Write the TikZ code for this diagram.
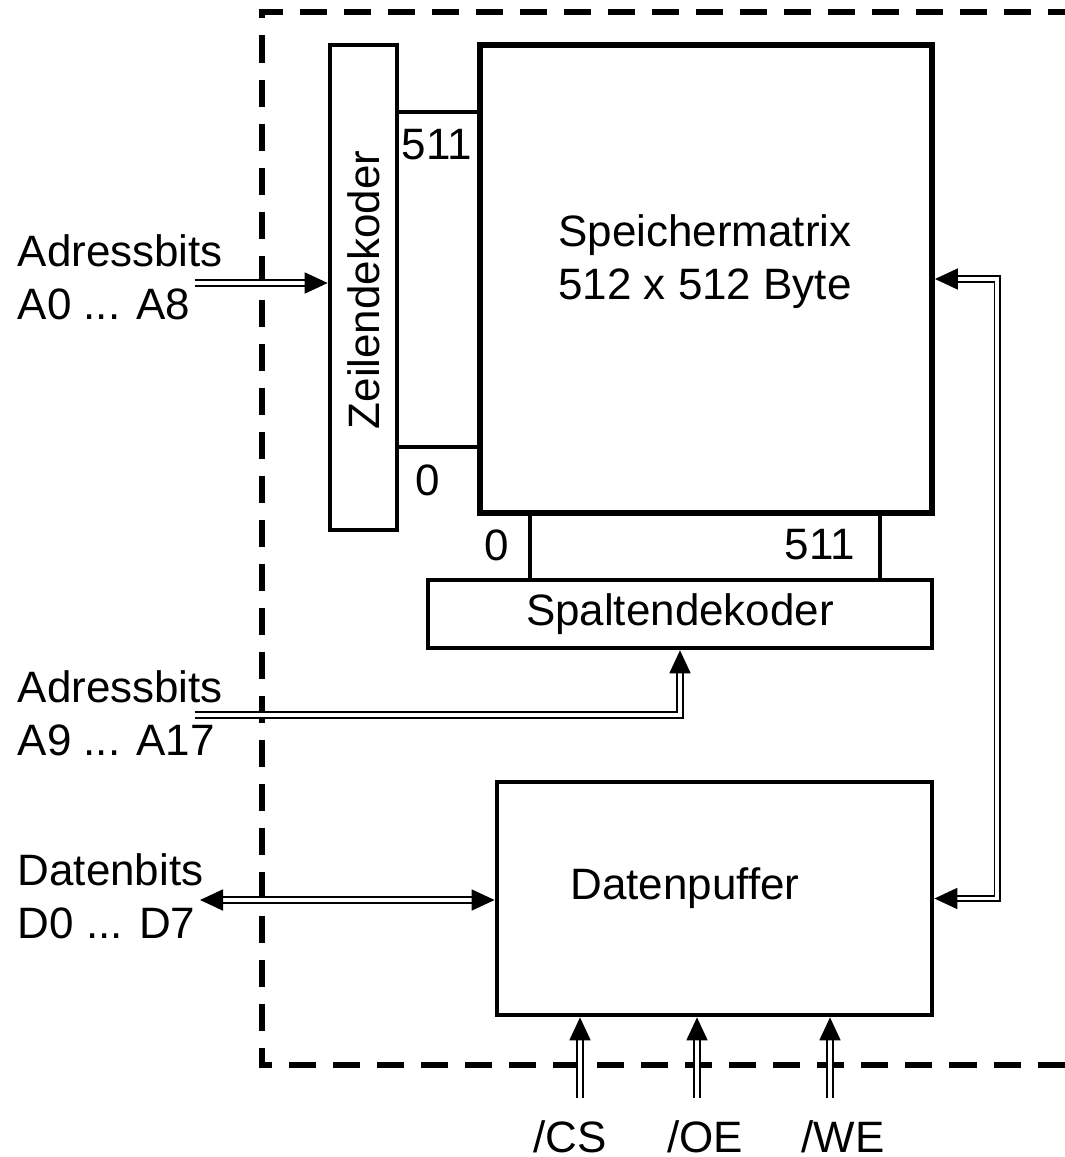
\documentclass[tikz,border=0pt]{standalone}
\usepackage{fontspec}
\setmainfont{Liberation Sans}
\usetikzlibrary{arrows.meta,positioning,calc}
\tikzset{
  blk/.style={draw, line width=1.3pt, inner sep=0pt},
  lbl/.style={font=\fontsize{12.5}{15}\selectfont, inner sep=0pt, align=left},
  wire/.style={line width=1.1pt},
  dbl/.style={double, double distance=1.1pt, line width=0.5pt},
  tip/.tip={Triangle[length=2.3mm, width=2.1mm]},
  arr/.style={dbl, -tip},
  arrs/.style={dbl, tip-tip},
}
\begin{document}
\begin{tikzpicture}[x=0.01cm, y=-0.01cm]
\useasboundingbox (0,0) rectangle (1065,1157);
% chip border
\draw[line width=1.8pt, dash pattern=on 0.27cm off 0.17cm] (1075,12) -- (262,12) -- (262,1065) -- (1075,1065);
% blocks
\node[blk, minimum width=0.67cm, minimum height=4.85cm] (zeile) at (363.5,287.5) {};
\node[lbl, rotate=90] (zeiletxt) at (363.5,290) {Zeilendekoder};
\node[blk, line width=1.6pt, minimum width=4.52cm, minimum height=4.68cm] (matrix) at (706,279) {};
\node[lbl, align=center] (mtxt) at (705,262) {Speichermatrix\\512 x 512 Byte};
\node[blk, lbl, draw, line width=1.3pt, minimum width=5.04cm, minimum height=0.68cm] (spalte) at (680,614) {Spaltendekoder};
\node[blk, minimum width=4.35cm, minimum height=2.33cm] (puffer) at (714.5,898.5) {};
\node[lbl] (ptxt) at (685,888) {Datenpuffer};
% row and column lines
\draw[wire] (zeile.east |- 0,112) -- (matrix.west |- 0,112);
\draw[wire] (zeile.east |- 0,447) -- (matrix.west |- 0,447);
\draw[wire] (matrix.south -| 530,0) -- (spalte.north -| 530,0);
\draw[wire] (matrix.south -| 880,0) -- (spalte.north -| 880,0);
\node[lbl] (r511) at (437,145) {511};
\node[lbl] (r0) at (428,480) {0};
\node[lbl] (c0) at (497,545) {0};
\node[lbl] (c511) at (820,545) {511};
% inputs
\node[lbl, anchor=west] (abits) at (17,277) {Adressbits\\A0 ... A8};
\node[lbl, anchor=west] (bbits) at (17,713) {Adressbits\\A9 ... A17};
\node[lbl, anchor=west] (dbits) at (17,896) {Datenbits\\D0 ... D7};
\coordinate (ain) at (195,283);
\coordinate (bin) at (195,715);
\coordinate (din) at (200,900);
\draw[arr] (ain) -- (zeile.west |- ain);
\draw[arr] (bin) -| (spalte.south);
\draw[arrs] (din) -- (puffer.west |- din);
\draw[arrs] (puffer.east) -- ++(63,0) |- (matrix.east);
% control lines
\foreach \x/\s/\lx in {580/CS/570, 697/OE/705, 830/WE/843} {
  \coordinate (ctl\s) at (\x,1098);
  \draw[arr] (ctl\s) -- (puffer.south -| ctl\s);
  \node[lbl] (lbl\s) at (\lx,1137) {/\s};
}
\end{tikzpicture}
\end{document}
